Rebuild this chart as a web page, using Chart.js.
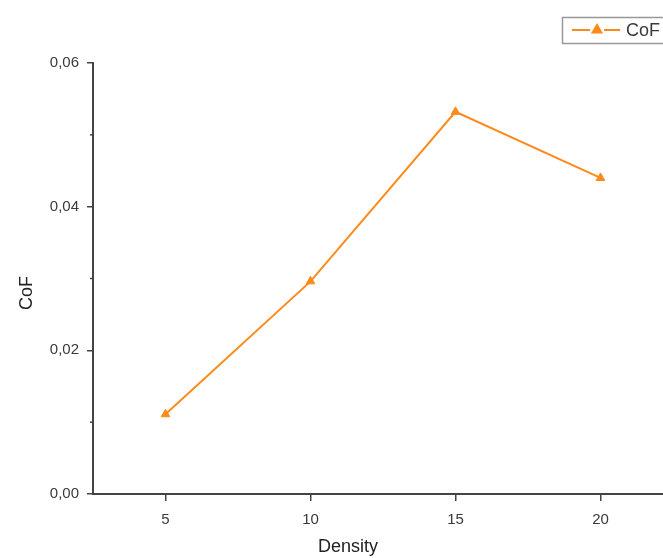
<!DOCTYPE html>
<html lang="en">
<head>
    <meta charset="UTF-8">
    <title>CoF vs Density</title>
    <script src="https://cdn.jsdelivr.net/npm/chart.js"></script>
    <style>
        html, body { margin: 0; padding: 0; background: #fff; overflow: hidden; }
        #wrap { width: 680px; height: 558px; }
    </style>
</head>
<body>
<div id="wrap"><canvas id="cofChart" width="680" height="558"></canvas></div>
<script>
    // data
    const densities = [5, 10, 15, 20];
    const cofValues = [0.0111, 0.0296, 0.0532, 0.0440];
    const xTicks = [5, 10, 15, 20];
    const yTicks = [0, 0.02, 0.04, 0.06];
    const yMinorTicks = [0.01, 0.03, 0.05];

    const orange = '#ff8a1c';
    const axisColor = '#444';
    const textColor = '#3a3a3a';
    const font = 'Liberation Sans, Arial, sans-serif';

    // minor ticks, axis titles and the cropped legend box
    const extras = {
        id: 'extras',
        afterDraw(chart) {
            const ctx = chart.ctx;
            const y = chart.scales.y;
            ctx.save();
            ctx.strokeStyle = axisColor;
            ctx.lineWidth = 1.5;
            yMinorTicks.forEach(v => {
                const py = y.getPixelForValue(v);
                ctx.beginPath();
                ctx.moveTo(chart.chartArea.left - 3, py);
                ctx.lineTo(chart.chartArea.left, py);
                ctx.stroke();
            });

            ctx.fillStyle = '#222';
            ctx.font = '18px ' + font;
            ctx.textAlign = 'center';
            ctx.textBaseline = 'middle';
            ctx.fillText('Density', 348, 547);
            ctx.save();
            ctx.translate(27, 293);
            ctx.rotate(-Math.PI / 2);
            ctx.fillText('CoF', 0, 0);
            ctx.restore();

            // legend
            ctx.strokeStyle = '#999';
            ctx.lineWidth = 1.5;
            ctx.strokeRect(562.5, 17.5, 120, 26);
            ctx.strokeStyle = orange;
            ctx.lineWidth = 2;
            ctx.beginPath();
            ctx.moveTo(572, 30);
            ctx.lineTo(590, 30);
            ctx.moveTo(604, 30);
            ctx.lineTo(620, 30);
            ctx.stroke();
            ctx.fillStyle = orange;
            Chart.helpers.drawPoint(ctx, { pointStyle: 'triangle', radius: 5, rotation: 0, borderWidth: 1 }, 597, 30);
            ctx.fillStyle = textColor;
            ctx.textAlign = 'left';
            ctx.fillText(chart.data.datasets[0].label, 626, 31);
            ctx.restore();
        }
    };

    const ctx = document.getElementById('cofChart').getContext('2d');
    new Chart(ctx, {
        type: 'line',
        data: {
            datasets: [{
                label: 'CoF',
                data: densities.map((d, i) => ({ x: d, y: cofValues[i] })),
                borderColor: orange,
                backgroundColor: orange,
                borderWidth: 2,
                pointStyle: 'triangle',
                pointRadius: 5,
                pointBorderWidth: 1,
                tension: 0
            }]
        },
        options: {
            responsive: false,
            animation: false,
            layout: { padding: { top: 63, right: 7, left: 0, bottom: 0 } },
            plugins: { legend: { display: false }, tooltip: { enabled: false } },
            scales: {
                x: {
                    type: 'linear',
                    min: 2.5,
                    max: 22.5,
                    afterBuildTicks: s => { s.ticks = xTicks.map(v => ({ value: v })); },
                    afterFit: s => { s.height = 64; },
                    grid: { drawOnChartArea: false, tickLength: 7, color: axisColor, lineWidth: 1.5 },
                    border: { color: axisColor, width: 2 },
                    ticks: { color: textColor, font: { size: 15, family: font }, padding: 10, callback: v => String(v) }
                },
                y: {
                    min: 0,
                    max: 0.06,
                    afterBuildTicks: s => { s.ticks = yTicks.map(v => ({ value: v })); },
                    afterFit: s => { s.width = 93; },
                    grid: { drawOnChartArea: false, tickLength: 6, color: axisColor, lineWidth: 1.5 },
                    border: { color: axisColor, width: 2 },
                    ticks: { color: textColor, font: { size: 15, family: font }, padding: 8,
                        callback: v => v.toFixed(2).replace('.', ',') }
                }
            }
        },
        plugins: [extras]
    });
</script>
</body>
</html>
